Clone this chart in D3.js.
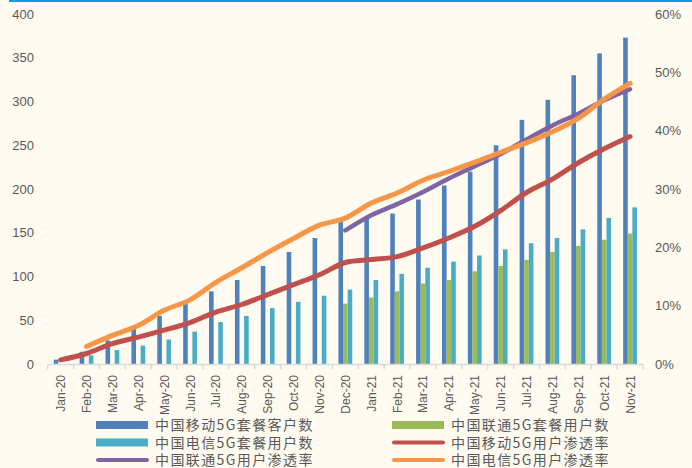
<!DOCTYPE html>
<html>
<head>
<meta charset="utf-8">
<script src="https://cdn.jsdelivr.net/npm/d3@7/dist/d3.min.js"></script>
<style>
  html, body { margin: 0; padding: 0; background: #FFFBF0; }
  svg { display: block; }
</style>
</head>
<body>
<svg width="692" height="468"></svg>
<script>
var months = ['Jan-20','Feb-20','Mar-20','Apr-20','May-20','Jun-20','Jul-20','Aug-20','Sep-20','Oct-20','Nov-20','Dec-20',
  'Jan-21','Feb-21','Mar-21','Apr-21','May-21','Jun-21','Jul-21','Aug-21','Sep-21','Oct-21','Nov-21'];

// 套餐用户数 (百万)
var mobileUsers  = [5, 14, 27, 40, 55, 69, 83, 96, 112, 128, 144, 165, 168, 172, 188, 204, 220, 250, 279, 302, 330, 355, 373];
var unicomUsers  = [null, null, null, null, null, null, null, null, null, null, null, 69, 76, 83, 92, 96, 106, 112, 119, 128, 135, 142, 149];
var telecomUsers = [null, 10, 16, 21, 28, 37, 48, 55, 64, 71, 78, 85, 96, 103, 110, 117, 124, 131, 138, 144, 154, 167, 179];

// 渗透率 (%)
var mobileRate  = [0.7, 1.8, 3.5, 4.6, 5.8, 7.1, 8.9, 10.2, 11.9, 13.6, 15.3, 17.4, 17.9, 18.4, 19.9, 21.6, 23.6, 26.3, 29.4, 31.7, 34.5, 36.9, 39.0];
var unicomRate  = [null, null, null, null, null, null, null, null, null, null, null, 22.9, 25.5, 27.4, 29.5, 31.8, 33.9, 36.0, 38.5, 40.9, 42.9, 45.2, 47.1];
var telecomRate = [null, 3.0, 4.9, 6.6, 9.2, 11.0, 14.0, 16.5, 19.1, 21.5, 23.8, 25.0, 27.6, 29.3, 31.5, 33.0, 34.6, 36.3, 37.9, 39.8, 42.1, 45.4, 48.1];

var leftTicks = [0, 50, 100, 150, 200, 250, 300, 350, 400];
var rightTicks = [0, 10, 20, 30, 40, 50, 60];

var barSeries = [
  {name: '中国移动5G套餐客户数', values: mobileUsers, color: '#4F81BD'},
  {name: '中国联通5G套餐用户数', values: unicomUsers, color: '#9BBB59'},
  {name: '中国电信5G套餐用户数', values: telecomUsers, color: '#4BACC6'}
];
var lineSeries = [
  {name: '中国移动5G用户渗透率', values: mobileRate, color: '#C0504D', width: 5},
  {name: '中国联通5G用户渗透率', values: unicomRate, color: '#8064A2', width: 4.5},
  {name: '中国电信5G用户渗透率', values: telecomRate, color: '#F79646', width: 5}
];

var svg = d3.select('svg');
var textColor = '#595959';
var numFont = '"Liberation Sans", Arial, sans-serif';
var cjkFont = '"Noto Sans CJK SC", sans-serif';

// top border
svg.append('line')
  .attr('x1', 9).attr('x2', 692).attr('y1', 1).attr('y2', 1)
  .attr('stroke', '#00A0E9').attr('stroke-width', 2);

var x = d3.scaleBand().domain(months).range([47.7, 643]).paddingInner(0);
var y = d3.scaleLinear().domain([0, 400]).range([364, 14]);
var y2 = d3.scaleLinear().domain([0, 60]).range([364, 14]);

var barW = 4.6;
var sub = d3.scaleBand().domain([0, 1, 2]).range([-barW * 1.5, barW * 1.5]);

// left axis labels
svg.append('g').selectAll('text').data(leftTicks).enter().append('text')
  .attr('x', 34).attr('y', function (d) { return y(d); })
  .attr('dy', '0.35em').attr('text-anchor', 'end')
  .attr('font-family', numFont).attr('font-size', 13).attr('fill', textColor)
  .text(function (d) { return d; });

// right axis labels
svg.append('g').selectAll('text').data(rightTicks).enter().append('text')
  .attr('x', 655).attr('y', function (d) { return y2(d); })
  .attr('dy', '0.35em').attr('text-anchor', 'start')
  .attr('font-family', numFont).attr('font-size', 13).attr('fill', textColor)
  .text(function (d) { return d + '%'; });

// bars
barSeries.forEach(function (s, i) {
  svg.append('g').selectAll('rect')
    .data(months.map(function (m, j) { return {m: m, v: s.values[j]}; }).filter(function (d) { return d.v != null; }))
    .enter().append('rect')
    .attr('x', function (d) { return x(d.m) + x.bandwidth() / 2 + sub(i); })
    .attr('width', sub.bandwidth())
    .attr('y', function (d) { return y(d.v); })
    .attr('height', function (d) { return y(0) - y(d.v); })
    .attr('fill', s.color);
});

// x axis
var xAxis = svg.append('g');
xAxis.append('line')
  .attr('x1', 47.7).attr('x2', 643).attr('y1', 364.5).attr('y2', 364.5)
  .attr('stroke', '#D9D9D9').attr('stroke-width', 1.5);
xAxis.selectAll('.tick').data(months.concat(['end'])).enter().append('line')
  .attr('x1', function (d) { return d === 'end' ? 643 : x(d); })
  .attr('x2', function (d) { return d === 'end' ? 643 : x(d); })
  .attr('y1', 364.5).attr('y2', 369)
  .attr('stroke', '#D9D9D9').attr('stroke-width', 1.5);
xAxis.selectAll('text').data(months).enter().append('text')
  .attr('transform', function (d) { return 'translate(' + (x(d) + x.bandwidth() / 2 + 4.5) + ',375) rotate(-90)'; })
  .attr('text-anchor', 'end')
  .attr('font-family', numFont).attr('font-size', 12).attr('fill', textColor)
  .text(function (d) { return d; });

// lines
lineSeries.forEach(function (s) {
  var line = d3.line()
    .defined(function (d) { return d != null; })
    .x(function (d, j) { return x(months[j]) + x.bandwidth() / 2; })
    .y(function (d) { return y2(d); })
    .curve(d3.curveCatmullRom.alpha(0.5));
  svg.append('path').datum(s.values)
    .attr('d', line)
    .attr('fill', 'none')
    .attr('stroke', s.color)
    .attr('stroke-width', s.width)
    .attr('stroke-linecap', 'round')
    .attr('stroke-linejoin', 'round');
});

// legend
var legendItems = [
  {s: barSeries[0], type: 'bar', col: 0, row: 0},
  {s: barSeries[1], type: 'bar', col: 1, row: 0},
  {s: barSeries[2], type: 'bar', col: 0, row: 1},
  {s: lineSeries[0], type: 'line', col: 1, row: 1},
  {s: lineSeries[1], type: 'line', col: 0, row: 2},
  {s: lineSeries[2], type: 'line', col: 1, row: 2}
];
var colX = [96, 392];
var rowY = [425, 442.5, 460];
var legend = svg.append('g');
legendItems.forEach(function (it) {
  var lx = colX[it.col], ly = rowY[it.row];
  if (it.type === 'bar') {
    legend.append('rect').attr('x', lx).attr('y', ly - 4).attr('width', 52).attr('height', 8).attr('fill', it.s.color);
  } else {
    legend.append('line').attr('x1', lx + 2).attr('x2', lx + 51).attr('y1', ly).attr('y2', ly)
      .attr('stroke', it.s.color).attr('stroke-width', 4).attr('stroke-linecap', 'round');
  }
  legend.append('text')
    .attr('x', lx + 59).attr('y', ly).attr('dy', '0.36em')
    .attr('font-family', cjkFont).attr('font-size', 14).attr('letter-spacing', 1.4)
    .attr('fill', textColor)
    .text(it.s.name);
});
</script>
</body>
</html>
